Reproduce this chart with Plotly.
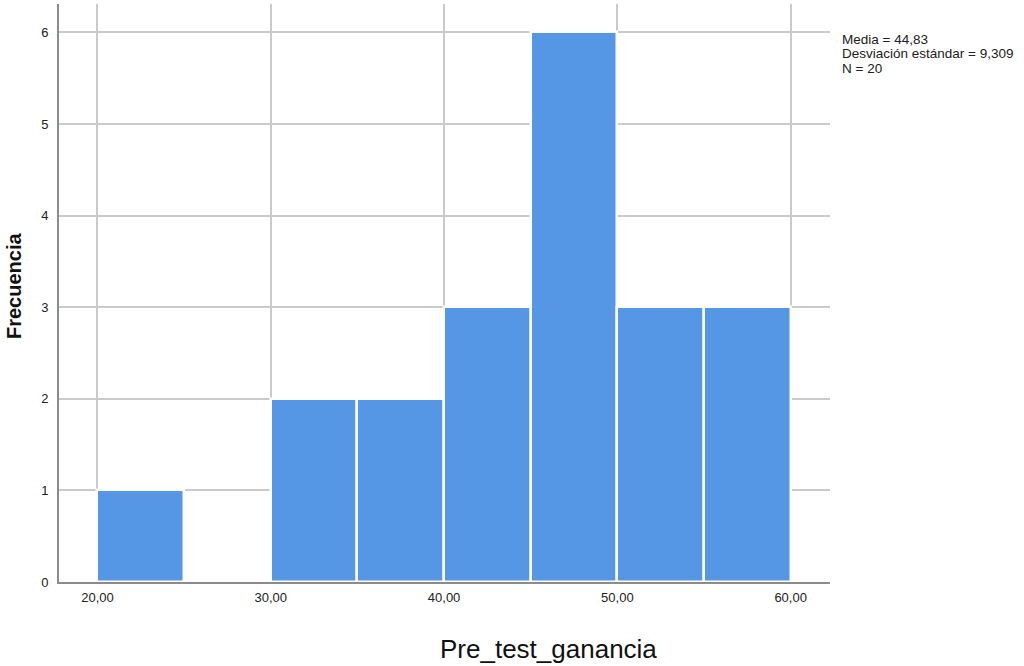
import plotly.graph_objects as go

bin_starts = [20, 25, 30, 35, 40, 45, 50, 55]
bin_width = 5
counts = [1, 0, 2, 2, 3, 6, 3, 3]
x_ticks = [20, 30, 40, 50, 60]
x_tick_labels = ["20,00", "30,00", "40,00", "50,00", "60,00"]
y_ticks = [0, 1, 2, 3, 4, 5, 6]
stats_lines = ["Media = 44,83", "Desviación estándar = 9,309", "N = 20"]
x_title = "Pre_test_ganancia"
y_title = "Frecuencia"

W, H = 1024, 666
L, R, T, B = 59, 194, 4, 84
plot_h = H - T - B
plot_w = W - L - R


def py(pix_y):
    return (H - B - pix_y) / plot_h


def px(pix_x):
    return (pix_x - L) / plot_w


fig = go.Figure()
fig.add_trace(go.Bar(
    x=bin_starts, y=counts, width=[bin_width] * len(bin_starts), offset=0,
    marker=dict(color="#5596E5", line=dict(color="white", width=2.5)),
    hoverinfo="x+y",
))

annotations = [
    dict(text=x_title, xref="paper", yref="paper", x=px(548), y=py(649),
         xanchor="center", yanchor="middle", showarrow=False,
         font=dict(size=26, family="Liberation Sans, Arial", color="#111")),
    dict(text="<b>" + y_title + "</b>", xref="paper", yref="paper", x=px(14), y=py(286),
         xanchor="center", yanchor="middle", showarrow=False, textangle=-90,
         font=dict(size=20, family="Liberation Sans, Arial", color="#111")),
]
for i, line in enumerate(stats_lines):
    annotations.append(dict(
        text=line, xref="paper", yref="paper", x=px(840), y=py(39.5 + 14.5 * i),
        xanchor="left", yanchor="middle", showarrow=False, align="left",
        font=dict(size=13.5, family="Liberation Sans, Arial", color="#222"),
    ))

fig.update_layout(
    width=W, height=H,
    margin=dict(l=L, r=R, t=T, b=B),
    paper_bgcolor="white", plot_bgcolor="white",
    showlegend=False,
    font=dict(family="Liberation Sans, Arial, sans-serif", color="#222"),
    bargap=0,
    xaxis=dict(
        range=[17.78, 62.27], tickmode="array", tickvals=x_ticks, ticktext=x_tick_labels,
        showgrid=True, gridcolor="#CACACA", gridwidth=2,
        showline=True, linecolor="#8C8C8C", linewidth=2,
        zeroline=False, ticks="", tickfont=dict(size=13, color="#222"),
        ticklabelstandoff=2,
    ),
    yaxis=dict(
        range=[0, 6.31], tickmode="array", tickvals=y_ticks,
        showgrid=True, gridcolor="#CACACA", gridwidth=2,
        showline=True, linecolor="#8C8C8C", linewidth=2,
        zeroline=False, ticks="", tickfont=dict(size=13, color="#222"),
        ticklabelstandoff=6,
    ),
    annotations=annotations,
)

fig.write_html("out.html", config={"displayModeBar": False},
               post_script="document.body.style.margin='0';")
